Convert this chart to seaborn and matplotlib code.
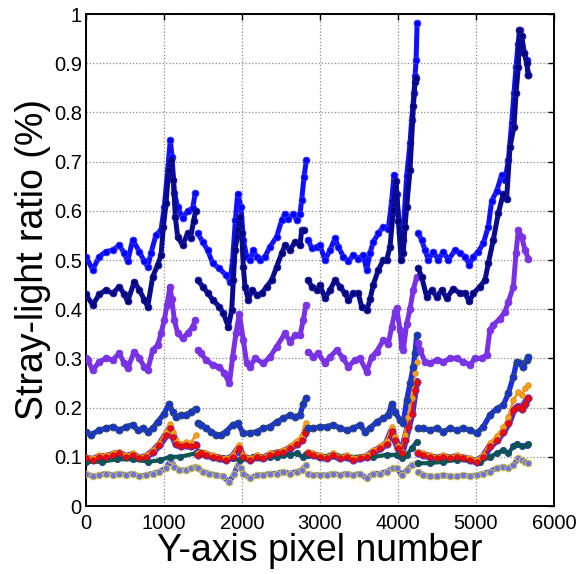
import numpy as np
import pandas as pd
import matplotlib
matplotlib.use("Agg")
import matplotlib.pyplot as plt
import seaborn as sns

# ---------------- data ----------------
seg_bounds = [1420, 2838, 4250]

s1_x = [0, 85, 170, 256, 342, 427, 491, 534, 598, 684, 748, 791, 833, 897, 962, 1004, 1047, 1081, 1103, 1133, 1175, 1239, 1304, 1368, 1400,
        1432, 1496, 1560, 1624, 1710, 1795, 1846, 1880, 1915, 1945, 1987, 2017, 2060, 2103, 2145, 2188, 2231, 2295, 2359, 2444, 2509, 2551, 2594, 2658, 2701, 2744, 2765, 2795, 2825,
        2850, 2893, 2957, 3000, 3064, 3128, 3192, 3235, 3299, 3363, 3427, 3491, 3555, 3598, 3641, 3684, 3748, 3812, 3876, 3919, 3949, 3983, 4026, 4060, 4111, 4154, 4175, 4205, 4218, 4232, 4245,
        4260, 4303, 4346, 4389, 4453, 4517, 4581, 4645, 4731, 4795, 4859, 4915, 4966, 5030, 5094, 5158, 5201, 5265, 5329, 5372, 5415, 5457, 5487, 5513, 5540, 5564, 5585, 5620, 5650, 5671]
s1_y = [0.507, 0.48, 0.507, 0.517, 0.52, 0.53, 0.514, 0.497, 0.541, 0.517, 0.497, 0.486, 0.514, 0.551, 0.561, 0.608, 0.683, 0.744, 0.71, 0.636, 0.608, 0.585, 0.6, 0.605, 0.636,
        0.554, 0.537, 0.52, 0.493, 0.483, 0.469, 0.456, 0.5, 0.581, 0.635, 0.608, 0.541, 0.507, 0.5, 0.52, 0.507, 0.5, 0.507, 0.527, 0.547, 0.581, 0.594, 0.584, 0.594, 0.581, 0.594, 0.622, 0.669, 0.703,
        0.541, 0.524, 0.527, 0.53, 0.5, 0.52, 0.544, 0.527, 0.507, 0.497, 0.51, 0.503, 0.51, 0.48, 0.514, 0.537, 0.554, 0.568, 0.564, 0.62, 0.673, 0.635, 0.554, 0.541, 0.67, 0.737, 0.785, 0.839, 0.873, 0.906, 0.981,
        0.554, 0.541, 0.52, 0.5, 0.517, 0.5, 0.517, 0.5, 0.52, 0.514, 0.507, 0.49, 0.507, 0.517, 0.534, 0.568, 0.62, 0.64, 0.673, 0.663, 0.703, 0.778, 0.839, 0.893, 0.94, 0.967, 0.927, 0.92, 0.906, 0.876]

s2_x = [0, 85, 170, 256, 342, 427, 491, 534, 620, 684, 748, 791, 855, 919, 962, 992, 1026, 1060, 1090, 1120, 1145, 1175, 1239, 1304, 1340, 1380, 1405,
        1432, 1496, 1560, 1624, 1710, 1761, 1825, 1868, 1889, 1910, 1953, 1975, 1996, 2017, 2038, 2081, 2124, 2188, 2252, 2316, 2380, 2444, 2509, 2551, 2615, 2679, 2744, 2765, 2800,
        2850, 2893, 2957, 3000, 3064, 3128, 3192, 3256, 3320, 3363, 3427, 3491, 3534, 3600, 3641, 3684, 3748, 3812, 3855, 3898, 3940, 3975, 4005, 4040, 4068, 4090, 4111, 4154, 4197, 4218, 4235,
        4260, 4303, 4368, 4432, 4496, 4560, 4624, 4709, 4795, 4859, 4915, 4966, 5051, 5115, 5158, 5222, 5286, 5350, 5393, 5436, 5487, 5513, 5543, 5555, 5585, 5620, 5650, 5671]
s2_y = [0.43, 0.409, 0.43, 0.439, 0.432, 0.446, 0.43, 0.416, 0.456, 0.439, 0.419, 0.405, 0.466, 0.49, 0.51, 0.568, 0.615, 0.683, 0.703, 0.663, 0.588, 0.547, 0.53, 0.555, 0.545, 0.58, 0.6,
        0.459, 0.446, 0.433, 0.419, 0.405, 0.392, 0.364, 0.398, 0.459, 0.52, 0.56, 0.588, 0.554, 0.486, 0.446, 0.419, 0.439, 0.429, 0.432, 0.446, 0.459, 0.486, 0.514, 0.53, 0.52, 0.537, 0.53, 0.561, 0.56,
        0.459, 0.446, 0.439, 0.449, 0.422, 0.439, 0.459, 0.446, 0.432, 0.419, 0.432, 0.432, 0.405, 0.398, 0.42, 0.45, 0.48, 0.5, 0.5, 0.527, 0.601, 0.66, 0.58, 0.5, 0.514, 0.568, 0.608, 0.683, 0.812, 0.862, 0.87,
        0.483, 0.466, 0.425, 0.439, 0.425, 0.439, 0.422, 0.442, 0.432, 0.432, 0.416, 0.432, 0.446, 0.459, 0.493, 0.541, 0.595, 0.635, 0.625, 0.73, 0.771, 0.839, 0.893, 0.967, 0.956, 0.92, 0.9, 0.876]

s3_x = [0, 21, 85, 170, 256, 342, 427, 491, 534, 620, 684, 748, 791, 855, 919, 962, 1004, 1039, 1077, 1100, 1133, 1175, 1239, 1304, 1368, 1402,
        1432, 1475, 1539, 1624, 1710, 1774, 1838, 1880, 1923, 1966, 2017, 2060, 2103, 2167, 2274, 2359, 2444, 2551, 2615, 2679, 2744, 2786, 2820,
        2850, 2914, 2979, 3064, 3128, 3214, 3299, 3363, 3449, 3513, 3598, 3662, 3726, 3812, 3876, 3919, 3962, 3983, 4026, 4047, 4068, 4111, 4154, 4197, 4240,
        4260, 4282, 4346, 4410, 4496, 4581, 4667, 4752, 4838, 4923, 4987, 5073, 5137, 5179, 5222, 5308, 5372, 5415, 5479, 5513, 5543, 5586, 5628, 5671]
s3_y = [0.3, 0.297, 0.276, 0.293, 0.3, 0.297, 0.31, 0.29, 0.28, 0.314, 0.3, 0.283, 0.276, 0.317, 0.327, 0.351, 0.378, 0.409, 0.446, 0.42, 0.378, 0.351, 0.341, 0.351, 0.364, 0.378,
        0.317, 0.31, 0.297, 0.287, 0.283, 0.27, 0.249, 0.303, 0.351, 0.39, 0.337, 0.29, 0.283, 0.3, 0.29, 0.303, 0.324, 0.351, 0.334, 0.347, 0.347, 0.378, 0.409,
        0.314, 0.303, 0.31, 0.29, 0.303, 0.317, 0.3, 0.283, 0.297, 0.3, 0.273, 0.303, 0.314, 0.337, 0.33, 0.364, 0.395, 0.402, 0.358, 0.324, 0.317, 0.37, 0.40, 0.44, 0.466,
        0.331, 0.317, 0.293, 0.29, 0.297, 0.293, 0.3, 0.3, 0.293, 0.287, 0.3, 0.3, 0.307, 0.358, 0.368, 0.381, 0.395, 0.415, 0.446, 0.514, 0.561, 0.547, 0.52, 0.503]

s4_x = [0, 64, 170, 256, 342, 427, 513, 598, 662, 727, 791, 855, 919, 1004, 1068, 1111, 1154, 1218, 1282, 1346, 1405,
        1430, 1475, 1539, 1603, 1667, 1731, 1795, 1880, 1945, 2017, 2103, 2188, 2274, 2359, 2444, 2530, 2615, 2679, 2744, 2786, 2820,
        2850, 2914, 3000, 3085, 3171, 3256, 3342, 3427, 3513, 3577, 3641, 3726, 3812, 3876, 3920, 3962, 4026, 4068, 4111, 4154, 4197, 4218, 4240,
        4261, 4325, 4410, 4496, 4581, 4667, 4752, 4838, 4923, 5008, 5094, 5179, 5265, 5350, 5415, 5479, 5521, 5564, 5607, 5650, 5671]
s4_y = [0.151, 0.145, 0.154, 0.158, 0.161, 0.154, 0.161, 0.165, 0.154, 0.158, 0.151, 0.158, 0.171, 0.188, 0.208, 0.191, 0.181, 0.185, 0.185, 0.191, 0.198,
        0.168, 0.165, 0.158, 0.151, 0.145, 0.145, 0.151, 0.165, 0.168, 0.148, 0.148, 0.151, 0.158, 0.161, 0.171, 0.178, 0.185, 0.181, 0.185, 0.208, 0.219,
        0.158, 0.158, 0.161, 0.161, 0.165, 0.158, 0.154, 0.158, 0.165, 0.151, 0.158, 0.171, 0.178, 0.185, 0.208, 0.191, 0.175, 0.168, 0.215, 0.249, 0.283, 0.31, 0.347,
        0.158, 0.158, 0.154, 0.158, 0.151, 0.158, 0.154, 0.158, 0.154, 0.148, 0.161, 0.185, 0.198, 0.205, 0.229, 0.263, 0.293, 0.29, 0.283, 0.297, 0.303]

s5_x = [0, 85, 170, 256, 342, 427, 513, 598, 684, 769, 855, 940, 1026, 1077, 1120, 1154, 1218, 1282, 1346, 1405,
        1430, 1475, 1539, 1624, 1710, 1795, 1880, 1957, 2017, 2103, 2188, 2274, 2359, 2444, 2530, 2615, 2701, 2765, 2808, 2825,
        2850, 2914, 3000, 3085, 3171, 3256, 3342, 3427, 3513, 3598, 3684, 3769, 3855, 3919, 3962, 4005, 4047, 4090, 4133, 4175, 4218, 4240,
        4261, 4325, 4410, 4496, 4581, 4667, 4752, 4838, 4923, 5008, 5094, 5179, 5265, 5350, 5415, 5479, 5543, 5586, 5628, 5671]
s5_y = [0.097, 0.094, 0.1, 0.1, 0.104, 0.107, 0.1, 0.104, 0.097, 0.1, 0.11, 0.124, 0.144, 0.158, 0.141, 0.127, 0.121, 0.124, 0.121, 0.124,
        0.104, 0.107, 0.104, 0.1, 0.097, 0.094, 0.1, 0.117, 0.1, 0.094, 0.1, 0.097, 0.104, 0.107, 0.11, 0.117, 0.127, 0.134, 0.148, 0.154,
        0.107, 0.104, 0.1, 0.097, 0.104, 0.097, 0.1, 0.094, 0.097, 0.1, 0.11, 0.117, 0.127, 0.152, 0.135, 0.118, 0.107, 0.134, 0.161, 0.188, 0.236, 0.253,
        0.107, 0.104, 0.1, 0.097, 0.1, 0.097, 0.1, 0.097, 0.094, 0.09, 0.1, 0.121, 0.134, 0.151, 0.168, 0.195, 0.202, 0.198, 0.208, 0.219]
s5o_y = [0.1, 0.097, 0.103, 0.103, 0.107, 0.11, 0.103, 0.107, 0.1, 0.103, 0.113, 0.128, 0.15, 0.167, 0.15, 0.135, 0.127, 0.13, 0.128, 0.144,
         0.107, 0.11, 0.107, 0.103, 0.1, 0.097, 0.103, 0.125, 0.103, 0.097, 0.103, 0.1, 0.107, 0.11, 0.113, 0.121, 0.133, 0.142, 0.16, 0.168,
         0.11, 0.107, 0.103, 0.1, 0.107, 0.1, 0.103, 0.097, 0.1, 0.103, 0.113, 0.121, 0.132, 0.16, 0.14, 0.122, 0.11, 0.145, 0.18, 0.22, 0.27, 0.293,
         0.11, 0.107, 0.103, 0.1, 0.103, 0.1, 0.103, 0.1, 0.097, 0.093, 0.104, 0.128, 0.142, 0.16, 0.18, 0.215, 0.232, 0.225, 0.239, 0.246]

s6_x = [0, 200, 400, 600, 800, 949, 1077, 1205, 1405,
        1430, 1496, 1624, 1752, 1880, 1974, 2145, 2231, 2359, 2444, 2530, 2615, 2701, 2786, 2820,
        2850, 3000, 3171, 3342, 3513, 3684, 3855, 3983, 4047, 4111, 4175, 4240,
        4261, 4410, 4581, 4752, 4923, 5051, 5179, 5265, 5350, 5415, 5479, 5521, 5586, 5650, 5671]
s6_y = [0.09, 0.09, 0.095, 0.095, 0.09, 0.093, 0.1, 0.1, 0.107,
        0.11, 0.107, 0.1, 0.097, 0.097, 0.093, 0.1, 0.1, 0.1, 0.1, 0.104, 0.104, 0.107, 0.1, 0.105,
        0.104, 0.1, 0.104, 0.1, 0.1, 0.1, 0.104, 0.104, 0.097, 0.104, 0.117, 0.131,
        0.087, 0.087, 0.09, 0.094, 0.094, 0.09, 0.1, 0.107, 0.114, 0.107, 0.121, 0.127, 0.121, 0.124, 0.127]

s7_x = [0, 85, 170, 256, 342, 427, 513, 598, 684, 769, 855, 940, 1026, 1090, 1133, 1197, 1282, 1346, 1405,
        1430, 1496, 1581, 1667, 1752, 1838, 1902, 1945, 1987, 2017, 2103, 2188, 2274, 2359, 2444, 2530, 2615, 2701, 2765, 2820,
        2850, 2914, 3000, 3085, 3171, 3256, 3342, 3427, 3513, 3598, 3684, 3769, 3855, 3940, 3983, 4047, 4111, 4175, 4240,
        4261, 4325, 4410, 4496, 4581, 4667, 4752, 4838, 4923, 5008, 5094, 5179, 5265, 5350, 5415, 5479, 5543, 5586, 5628, 5671]
s7_y = [0.066, 0.06, 0.063, 0.066, 0.063, 0.066, 0.063, 0.066, 0.06, 0.063, 0.066, 0.07, 0.077, 0.094, 0.08, 0.073, 0.073, 0.077, 0.08,
        0.077, 0.07, 0.066, 0.063, 0.06, 0.049, 0.066, 0.083, 0.077, 0.066, 0.056, 0.063, 0.063, 0.066, 0.066, 0.07, 0.066, 0.07, 0.073, 0.083,
        0.066, 0.063, 0.063, 0.063, 0.066, 0.063, 0.066, 0.063, 0.066, 0.056, 0.066, 0.066, 0.07, 0.077, 0.077, 0.063, 0.073, 0.083, 0.087,
        0.07, 0.063, 0.06, 0.06, 0.063, 0.06, 0.06, 0.063, 0.06, 0.063, 0.066, 0.07, 0.077, 0.08, 0.077, 0.083, 0.097, 0.094, 0.09, 0.087]

x_ticks = [0, 1000, 2000, 3000, 4000, 5000, 6000]
y_ticks = [0, 0.1, 0.2, 0.3, 0.4, 0.5, 0.6, 0.7, 0.8, 0.9, 1.0]
y_tick_labels = ["0", "0.1", "0.2", "0.3", "0.4", "0.5", "0.6", "0.7", "0.8", "0.9", "1"]

# ---------------- figure ----------------
sns.set_style("white")
plt.rcParams["font.family"] = ["Liberation Sans", "DejaVu Sans"]
plt.rcParams["text.color"] = "black"
plt.rcParams["axes.labelcolor"] = "black"
plt.rcParams["xtick.color"] = "black"
plt.rcParams["ytick.color"] = "black"

fig = plt.figure(figsize=(5.83, 5.74), dpi=100)
ax = fig.add_axes([86 / 583, 1 - 506 / 574, (554 - 86) / 583, (506 - 14) / 574])


def draw(x, y, line_color, face, edge, lw, s, z, ew=0.6):
    df = pd.DataFrame({"x": x, "y": y})
    df["seg"] = np.searchsorted(seg_bounds, df["x"].values)
    sns.lineplot(data=df, x="x", y="y", units="seg", estimator=None, sort=False,
                 color=line_color, lw=lw, ax=ax, legend=False, zorder=z,
                 solid_capstyle="round", solid_joinstyle="round")
    sns.scatterplot(data=df, x="x", y="y", color=face, edgecolor=edge, s=s,
                    linewidth=ew, ax=ax, legend=False, zorder=z + 0.5)


draw(s1_x, s1_y, "#1010ff", "#0000ff", "#3a3aff", 3.6, 24, 10)
draw(s2_x, s2_y, "#0a0a8c", "#05057a", "#1a1ab0", 3.6, 24, 11)
draw(s3_x, s3_y, "#7a30e4", "#8030e6", "#6a3ae0", 3.6, 24, 9)
draw(s4_x, s4_y, "#1c2ee0", "#1a30d8", "#2a5064", 3.8, 24, 8, ew=0.8)
draw(s7_x, s7_y, "#4a4ee0", "#7070e0", "#c8c048", 3.8, 22, 5, ew=0.8)
draw(s5_x, s5_y, "#4a2cc8", "#4a2cc8", "#6a50d0", 5.4, 28, 6)
draw(s6_x, s6_y, "#0c5a48", "#0a5a44", "#1a3aa0", 3.0, 20, 7)
draw(s5_x, s5o_y, "#f09a20", "#f5a020", "#e08a10", 2.0, 16, 7.6)
draw(s5_x, s5_y, "#e01018", "#ee0a10", "#c80818", 2.0, 16, 7.8)

ax.set_xlim(0, 6000)
ax.set_ylim(0, 1)
ax.set_xticks(x_ticks)
ax.set_yticks(y_ticks)
ax.set_yticklabels(y_tick_labels)
ax.grid(True, linestyle=":", color="#8c8c8c", linewidth=0.9)
ax.set_axisbelow(True)
for sp in ax.spines.values():
    sp.set_visible(True)
    sp.set_color("black")
    sp.set_linewidth(1.4)
ax.tick_params(direction="in", length=4, width=1.0, top=True, right=True,
               labelsize=14.5, colors="black")
ax.tick_params(axis="x", pad=6)
ax.tick_params(axis="y", pad=3)
ax.set_xlabel("Y-axis pixel number", fontsize=27, labelpad=0, color="black")
ax.set_ylabel("Stray-light ratio (%)", fontsize=27, labelpad=2, color="black")

fig.savefig("out.png", dpi=100)
